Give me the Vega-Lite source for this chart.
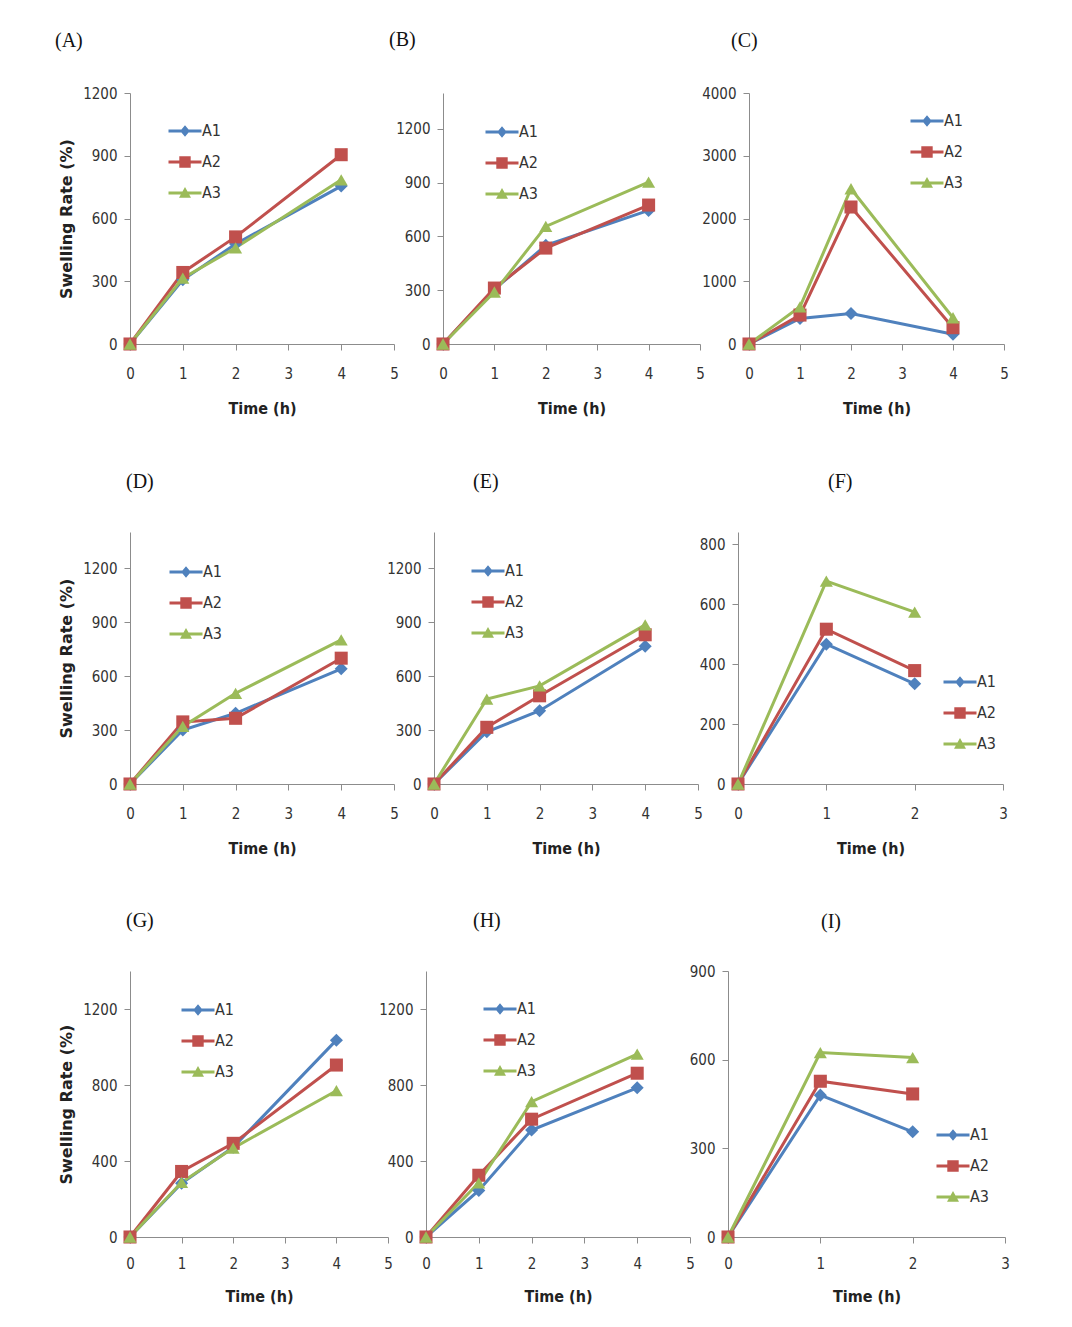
{
  "$schema": "https://vega.github.io/schema/vega-lite/v6.json",
  "padding": {"left": 55, "top": 30, "right": 5, "bottom": 5},
  "background": "white",
  "data": {"values": [
    {"panel":"A","series":"A1","time":0,"value":0},{"panel":"A","series":"A1","time":1,"value":307},{"panel":"A","series":"A1","time":2,"value":478},{"panel":"A","series":"A1","time":4,"value":755},
    {"panel":"A","series":"A2","time":0,"value":0},{"panel":"A","series":"A2","time":1,"value":342},{"panel":"A","series":"A2","time":2,"value":512},{"panel":"A","series":"A2","time":4,"value":905},
    {"panel":"A","series":"A3","time":0,"value":0},{"panel":"A","series":"A3","time":1,"value":315},{"panel":"A","series":"A3","time":2,"value":460},{"panel":"A","series":"A3","time":4,"value":785},
    {"panel":"B","series":"A1","time":0,"value":0},{"panel":"B","series":"A1","time":1,"value":305},{"panel":"B","series":"A1","time":2,"value":550},{"panel":"B","series":"A1","time":4,"value":745},
    {"panel":"B","series":"A2","time":0,"value":0},{"panel":"B","series":"A2","time":1,"value":312},{"panel":"B","series":"A2","time":2,"value":535},{"panel":"B","series":"A2","time":4,"value":775},
    {"panel":"B","series":"A3","time":0,"value":0},{"panel":"B","series":"A3","time":1,"value":290},{"panel":"B","series":"A3","time":2,"value":656},{"panel":"B","series":"A3","time":4,"value":903},
    {"panel":"C","series":"A1","time":0,"value":0},{"panel":"C","series":"A1","time":1,"value":408},{"panel":"C","series":"A1","time":2,"value":487},{"panel":"C","series":"A1","time":4,"value":154},
    {"panel":"C","series":"A2","time":0,"value":0},{"panel":"C","series":"A2","time":1,"value":461},{"panel":"C","series":"A2","time":2,"value":2183},{"panel":"C","series":"A2","time":4,"value":260},
    {"panel":"C","series":"A3","time":0,"value":0},{"panel":"C","series":"A3","time":1,"value":593},{"panel":"C","series":"A3","time":2,"value":2474},{"panel":"C","series":"A3","time":4,"value":418},
    {"panel":"D","series":"A1","time":0,"value":0},{"panel":"D","series":"A1","time":1,"value":300},{"panel":"D","series":"A1","time":2,"value":393},{"panel":"D","series":"A1","time":4,"value":640},
    {"panel":"D","series":"A2","time":0,"value":0},{"panel":"D","series":"A2","time":1,"value":345},{"panel":"D","series":"A2","time":2,"value":365},{"panel":"D","series":"A2","time":4,"value":699},
    {"panel":"D","series":"A3","time":0,"value":0},{"panel":"D","series":"A3","time":1,"value":320},{"panel":"D","series":"A3","time":2,"value":504},{"panel":"D","series":"A3","time":4,"value":801},
    {"panel":"E","series":"A1","time":0,"value":0},{"panel":"E","series":"A1","time":1,"value":290},{"panel":"E","series":"A1","time":2,"value":407},{"panel":"E","series":"A1","time":4,"value":765},
    {"panel":"E","series":"A2","time":0,"value":0},{"panel":"E","series":"A2","time":1,"value":315},{"panel":"E","series":"A2","time":2,"value":490},{"panel":"E","series":"A2","time":4,"value":829},
    {"panel":"E","series":"A3","time":0,"value":0},{"panel":"E","series":"A3","time":1,"value":472},{"panel":"E","series":"A3","time":2,"value":545},{"panel":"E","series":"A3","time":4,"value":884},
    {"panel":"F","series":"A1","time":0,"value":0},{"panel":"F","series":"A1","time":1,"value":466},{"panel":"F","series":"A1","time":2,"value":334},
    {"panel":"F","series":"A2","time":0,"value":0},{"panel":"F","series":"A2","time":1,"value":516},{"panel":"F","series":"A2","time":2,"value":378},
    {"panel":"F","series":"A3","time":0,"value":0},{"panel":"F","series":"A3","time":1,"value":676},{"panel":"F","series":"A3","time":2,"value":573},
    {"panel":"G","series":"A1","time":0,"value":0},{"panel":"G","series":"A1","time":1,"value":283},{"panel":"G","series":"A1","time":2,"value":472},{"panel":"G","series":"A1","time":4,"value":1036},
    {"panel":"G","series":"A2","time":0,"value":0},{"panel":"G","series":"A2","time":1,"value":345},{"panel":"G","series":"A2","time":2,"value":493},{"panel":"G","series":"A2","time":4,"value":905},
    {"panel":"G","series":"A3","time":0,"value":0},{"panel":"G","series":"A3","time":1,"value":288},{"panel":"G","series":"A3","time":2,"value":468},{"panel":"G","series":"A3","time":4,"value":770},
    {"panel":"H","series":"A1","time":0,"value":0},{"panel":"H","series":"A1","time":1,"value":245},{"panel":"H","series":"A1","time":2,"value":563},{"panel":"H","series":"A1","time":4,"value":785},
    {"panel":"H","series":"A2","time":0,"value":0},{"panel":"H","series":"A2","time":1,"value":325},{"panel":"H","series":"A2","time":2,"value":620},{"panel":"H","series":"A2","time":4,"value":862},
    {"panel":"H","series":"A3","time":0,"value":0},{"panel":"H","series":"A3","time":1,"value":285},{"panel":"H","series":"A3","time":2,"value":712},{"panel":"H","series":"A3","time":4,"value":962},
    {"panel":"I","series":"A1","time":0,"value":0},{"panel":"I","series":"A1","time":1,"value":480},{"panel":"I","series":"A1","time":2,"value":356},
    {"panel":"I","series":"A2","time":0,"value":0},{"panel":"I","series":"A2","time":1,"value":527},{"panel":"I","series":"A2","time":2,"value":484},
    {"panel":"I","series":"A3","time":0,"value":0},{"panel":"I","series":"A3","time":1,"value":624},{"panel":"I","series":"A3","time":2,"value":607}
  ]},
  "bounds": "flush",
  "spacing": 439,
  "vconcat": [
    {
      "bounds": "flush",
      "spacing": 49,
      "hconcat": [
        {
          "width": 264, "height": 251,
          "title": {"text": "(A)", "dx": -75, "offset": 35},
          "transform": [{"filter": "datum.panel === 'A'"}],
          "encoding": {
            "x": {"field": "time", "type": "quantitative", "scale": {"domain": [0, 5], "nice": false, "zero": false}, "axis": {"values": [0,1,2,3,4,5], "title": "Time (h)"}},
            "y": {"field": "value", "type": "quantitative", "scale": {"domain": [0, 1200], "nice": false}, "axis": {"values": [0,300,600,900,1200], "title": "Swelling Rate (%)"}}
          },
          "layer": [
            {"mark": {"type": "line", "strokeWidth": 3}, "encoding": {"color": {"field": "series", "type": "nominal", "scale": {"domain": ["A1","A2","A3"], "range": ["#4F81BD","#C0504D","#9BBB59"]}, "legend": null}}},
            {"mark": {"type": "point", "filled": true, "size": 170, "opacity": 1}, "encoding": {"color": {"field": "series", "type": "nominal", "scale": {"domain": ["A1","A2","A3"], "range": ["#4F81BD","#C0504D","#9BBB59"]}, "legend": null}, "shape": {"field": "series", "type": "nominal", "scale": {"domain": ["A1","A2","A3"], "range": ["diamond","square","triangle-up"]}, "legend": null}}},
            {"mark": {"type": "point", "filled": true, "opacity": 0}, "encoding": {"color": {"field": "series", "type": "nominal", "scale": {"domain": ["A1","A2","A3"], "range": ["#4F81BD","#C0504D","#9BBB59"]}, "legend": {"orient": "none", "legendX": 40, "legendY": 23}}, "shape": {"field": "series", "type": "nominal", "scale": {"domain": ["A1","A2","A3"], "range": ["M-1.1,-0.1H1.1V0.1H-1.1Z M0,-0.38L0.32,0L0,0.38L-0.32,0Z","M-1.1,-0.1H1.1V0.1H-1.1Z M-0.38,-0.38H0.38V0.38H-0.38Z","M-1.1,-0.1H1.1V0.1H-1.1Z M0,-0.4L0.4,0.32H-0.4Z"]}, "legend": {"orient": "none", "legendX": 40, "legendY": 23}}}}
          ],
          "resolve": {"scale": {"color": "independent", "shape": "independent"}}
        },
        {
          "width": 257, "height": 251,
          "title": {"text": "(B)", "dx": -54, "offset": 43},
          "transform": [{"filter": "datum.panel === 'B'"}],
          "encoding": {
            "x": {"field": "time", "type": "quantitative", "scale": {"domain": [0, 5], "nice": false, "zero": false}, "axis": {"values": [0,1,2,3,4,5], "title": "Time (h)"}},
            "y": {"field": "value", "type": "quantitative", "scale": {"domain": [0, 1400], "nice": false}, "axis": {"values": [0,300,600,900,1200], "title": null}}
          },
          "layer": [
            {"mark": {"type": "line", "strokeWidth": 3}, "encoding": {"color": {"field": "series", "type": "nominal", "scale": {"domain": ["A1","A2","A3"], "range": ["#4F81BD","#C0504D","#9BBB59"]}, "legend": null}}},
            {"mark": {"type": "point", "filled": true, "size": 170, "opacity": 1}, "encoding": {"color": {"field": "series", "type": "nominal", "scale": {"domain": ["A1","A2","A3"], "range": ["#4F81BD","#C0504D","#9BBB59"]}, "legend": null}, "shape": {"field": "series", "type": "nominal", "scale": {"domain": ["A1","A2","A3"], "range": ["diamond","square","triangle-up"]}, "legend": null}}},
            {"mark": {"type": "point", "filled": true, "opacity": 0}, "encoding": {"color": {"field": "series", "type": "nominal", "scale": {"domain": ["A1","A2","A3"], "range": ["#4F81BD","#C0504D","#9BBB59"]}, "legend": {"orient": "none", "legendX": 44, "legendY": 24}}, "shape": {"field": "series", "type": "nominal", "scale": {"domain": ["A1","A2","A3"], "range": ["M-1.1,-0.1H1.1V0.1H-1.1Z M0,-0.38L0.32,0L0,0.38L-0.32,0Z","M-1.1,-0.1H1.1V0.1H-1.1Z M-0.38,-0.38H0.38V0.38H-0.38Z","M-1.1,-0.1H1.1V0.1H-1.1Z M0,-0.4L0.4,0.32H-0.4Z"]}, "legend": {"orient": "none", "legendX": 44, "legendY": 24}}}}
          ],
          "resolve": {"scale": {"color": "independent", "shape": "independent"}}
        },
        {
          "width": 255, "height": 251,
          "title": {"text": "(C)", "dx": -18, "offset": 35},
          "transform": [{"filter": "datum.panel === 'C'"}],
          "encoding": {
            "x": {"field": "time", "type": "quantitative", "scale": {"domain": [0, 5], "nice": false, "zero": false}, "axis": {"values": [0,1,2,3,4,5], "title": "Time (h)"}},
            "y": {"field": "value", "type": "quantitative", "scale": {"domain": [0, 4000], "nice": false}, "axis": {"values": [0,1000,2000,3000,4000], "title": null}}
          },
          "layer": [
            {"mark": {"type": "line", "strokeWidth": 3}, "encoding": {"color": {"field": "series", "type": "nominal", "scale": {"domain": ["A1","A2","A3"], "range": ["#4F81BD","#C0504D","#9BBB59"]}, "legend": null}}},
            {"mark": {"type": "point", "filled": true, "size": 170, "opacity": 1}, "encoding": {"color": {"field": "series", "type": "nominal", "scale": {"domain": ["A1","A2","A3"], "range": ["#4F81BD","#C0504D","#9BBB59"]}, "legend": null}, "shape": {"field": "series", "type": "nominal", "scale": {"domain": ["A1","A2","A3"], "range": ["diamond","square","triangle-up"]}, "legend": null}}},
            {"mark": {"type": "point", "filled": true, "opacity": 0}, "encoding": {"color": {"field": "series", "type": "nominal", "scale": {"domain": ["A1","A2","A3"], "range": ["#4F81BD","#C0504D","#9BBB59"]}, "legend": {"orient": "none", "legendX": 163, "legendY": 13}}, "shape": {"field": "series", "type": "nominal", "scale": {"domain": ["A1","A2","A3"], "range": ["M-1.1,-0.1H1.1V0.1H-1.1Z M0,-0.38L0.32,0L0,0.38L-0.32,0Z","M-1.1,-0.1H1.1V0.1H-1.1Z M-0.38,-0.38H0.38V0.38H-0.38Z","M-1.1,-0.1H1.1V0.1H-1.1Z M0,-0.4L0.4,0.32H-0.4Z"]}, "legend": {"orient": "none", "legendX": 163, "legendY": 13}}}}
          ],
          "resolve": {"scale": {"color": "independent", "shape": "independent"}}
        }
      ]
    },
    {
      "bounds": "flush",
      "spacing": 40,
      "hconcat": [
        {
          "width": 264, "height": 252,
          "title": {"text": "(D)", "dx": -4, "offset": 40},
          "transform": [{"filter": "datum.panel === 'D'"}],
          "encoding": {
            "x": {"field": "time", "type": "quantitative", "scale": {"domain": [0, 5], "nice": false, "zero": false}, "axis": {"values": [0,1,2,3,4,5], "title": "Time (h)"}},
            "y": {"field": "value", "type": "quantitative", "scale": {"domain": [0, 1400], "nice": false}, "axis": {"values": [0,300,600,900,1200], "title": "Swelling Rate (%)"}}
          },
          "layer": [
            {"mark": {"type": "line", "strokeWidth": 3}, "encoding": {"color": {"field": "series", "type": "nominal", "scale": {"domain": ["A1","A2","A3"], "range": ["#4F81BD","#C0504D","#9BBB59"]}, "legend": null}}},
            {"mark": {"type": "point", "filled": true, "size": 170, "opacity": 1}, "encoding": {"color": {"field": "series", "type": "nominal", "scale": {"domain": ["A1","A2","A3"], "range": ["#4F81BD","#C0504D","#9BBB59"]}, "legend": null}, "shape": {"field": "series", "type": "nominal", "scale": {"domain": ["A1","A2","A3"], "range": ["diamond","square","triangle-up"]}, "legend": null}}},
            {"mark": {"type": "point", "filled": true, "opacity": 0}, "encoding": {"color": {"field": "series", "type": "nominal", "scale": {"domain": ["A1","A2","A3"], "range": ["#4F81BD","#C0504D","#9BBB59"]}, "legend": {"orient": "none", "legendX": 41, "legendY": 25}}, "shape": {"field": "series", "type": "nominal", "scale": {"domain": ["A1","A2","A3"], "range": ["M-1.1,-0.1H1.1V0.1H-1.1Z M0,-0.38L0.32,0L0,0.38L-0.32,0Z","M-1.1,-0.1H1.1V0.1H-1.1Z M-0.38,-0.38H0.38V0.38H-0.38Z","M-1.1,-0.1H1.1V0.1H-1.1Z M0,-0.4L0.4,0.32H-0.4Z"]}, "legend": {"orient": "none", "legendX": 41, "legendY": 25}}}}
          ],
          "resolve": {"scale": {"color": "independent", "shape": "independent"}}
        },
        {
          "width": 264, "height": 252,
          "title": {"text": "(E)", "dx": 39, "offset": 40},
          "transform": [{"filter": "datum.panel === 'E'"}],
          "encoding": {
            "x": {"field": "time", "type": "quantitative", "scale": {"domain": [0, 5], "nice": false, "zero": false}, "axis": {"values": [0,1,2,3,4,5], "title": "Time (h)"}},
            "y": {"field": "value", "type": "quantitative", "scale": {"domain": [0, 1400], "nice": false}, "axis": {"values": [0,300,600,900,1200], "title": null}}
          },
          "layer": [
            {"mark": {"type": "line", "strokeWidth": 3}, "encoding": {"color": {"field": "series", "type": "nominal", "scale": {"domain": ["A1","A2","A3"], "range": ["#4F81BD","#C0504D","#9BBB59"]}, "legend": null}}},
            {"mark": {"type": "point", "filled": true, "size": 170, "opacity": 1}, "encoding": {"color": {"field": "series", "type": "nominal", "scale": {"domain": ["A1","A2","A3"], "range": ["#4F81BD","#C0504D","#9BBB59"]}, "legend": null}, "shape": {"field": "series", "type": "nominal", "scale": {"domain": ["A1","A2","A3"], "range": ["diamond","square","triangle-up"]}, "legend": null}}},
            {"mark": {"type": "point", "filled": true, "opacity": 0}, "encoding": {"color": {"field": "series", "type": "nominal", "scale": {"domain": ["A1","A2","A3"], "range": ["#4F81BD","#C0504D","#9BBB59"]}, "legend": {"orient": "none", "legendX": 39, "legendY": 24}}, "shape": {"field": "series", "type": "nominal", "scale": {"domain": ["A1","A2","A3"], "range": ["M-1.1,-0.1H1.1V0.1H-1.1Z M0,-0.38L0.32,0L0,0.38L-0.32,0Z","M-1.1,-0.1H1.1V0.1H-1.1Z M-0.38,-0.38H0.38V0.38H-0.38Z","M-1.1,-0.1H1.1V0.1H-1.1Z M0,-0.4L0.4,0.32H-0.4Z"]}, "legend": {"orient": "none", "legendX": 39, "legendY": 24}}}}
          ],
          "resolve": {"scale": {"color": "independent", "shape": "independent"}}
        },
        {
          "width": 265, "height": 252,
          "title": {"text": "(F)", "dx": 90, "offset": 40},
          "transform": [{"filter": "datum.panel === 'F'"}],
          "encoding": {
            "x": {"field": "time", "type": "quantitative", "scale": {"domain": [0, 3], "nice": false, "zero": false}, "axis": {"values": [0,1,2,3], "title": "Time (h)"}},
            "y": {"field": "value", "type": "quantitative", "scale": {"domain": [0, 840], "nice": false}, "axis": {"values": [0,200,400,600,800], "title": null}}
          },
          "layer": [
            {"mark": {"type": "line", "strokeWidth": 3}, "encoding": {"color": {"field": "series", "type": "nominal", "scale": {"domain": ["A1","A2","A3"], "range": ["#4F81BD","#C0504D","#9BBB59"]}, "legend": null}}},
            {"mark": {"type": "point", "filled": true, "size": 170, "opacity": 1}, "encoding": {"color": {"field": "series", "type": "nominal", "scale": {"domain": ["A1","A2","A3"], "range": ["#4F81BD","#C0504D","#9BBB59"]}, "legend": null}, "shape": {"field": "series", "type": "nominal", "scale": {"domain": ["A1","A2","A3"], "range": ["diamond","square","triangle-up"]}, "legend": null}}},
            {"mark": {"type": "point", "filled": true, "opacity": 0}, "encoding": {"color": {"field": "series", "type": "nominal", "scale": {"domain": ["A1","A2","A3"], "range": ["#4F81BD","#C0504D","#9BBB59"]}, "legend": {"orient": "none", "legendX": 207, "legendY": 135}}, "shape": {"field": "series", "type": "nominal", "scale": {"domain": ["A1","A2","A3"], "range": ["M-1.1,-0.1H1.1V0.1H-1.1Z M0,-0.38L0.32,0L0,0.38L-0.32,0Z","M-1.1,-0.1H1.1V0.1H-1.1Z M-0.38,-0.38H0.38V0.38H-0.38Z","M-1.1,-0.1H1.1V0.1H-1.1Z M0,-0.4L0.4,0.32H-0.4Z"]}, "legend": {"orient": "none", "legendX": 207, "legendY": 135}}}}
          ],
          "resolve": {"scale": {"color": "independent", "shape": "independent"}}
        }
      ]
    },
    {
      "bounds": "flush",
      "spacing": 38,
      "hconcat": [
        {
          "width": 258, "height": 266,
          "title": {"text": "(G)", "dx": -4, "offset": 40},
          "transform": [{"filter": "datum.panel === 'G'"}],
          "encoding": {
            "x": {"field": "time", "type": "quantitative", "scale": {"domain": [0, 5], "nice": false, "zero": false}, "axis": {"values": [0,1,2,3,4,5], "title": "Time (h)", "labelPadding": 13, "titlePadding": 17}},
            "y": {"field": "value", "type": "quantitative", "scale": {"domain": [0, 1400], "nice": false}, "axis": {"values": [0,400,800,1200], "title": "Swelling Rate (%)"}}
          },
          "layer": [
            {"mark": {"type": "line", "strokeWidth": 3}, "encoding": {"color": {"field": "series", "type": "nominal", "scale": {"domain": ["A1","A2","A3"], "range": ["#4F81BD","#C0504D","#9BBB59"]}, "legend": null}}},
            {"mark": {"type": "point", "filled": true, "size": 170, "opacity": 1}, "encoding": {"color": {"field": "series", "type": "nominal", "scale": {"domain": ["A1","A2","A3"], "range": ["#4F81BD","#C0504D","#9BBB59"]}, "legend": null}, "shape": {"field": "series", "type": "nominal", "scale": {"domain": ["A1","A2","A3"], "range": ["diamond","square","triangle-up"]}, "legend": null}}},
            {"mark": {"type": "point", "filled": true, "opacity": 0}, "encoding": {"color": {"field": "series", "type": "nominal", "scale": {"domain": ["A1","A2","A3"], "range": ["#4F81BD","#C0504D","#9BBB59"]}, "legend": {"orient": "none", "legendX": 53, "legendY": 24}}, "shape": {"field": "series", "type": "nominal", "scale": {"domain": ["A1","A2","A3"], "range": ["M-1.1,-0.1H1.1V0.1H-1.1Z M0,-0.38L0.32,0L0,0.38L-0.32,0Z","M-1.1,-0.1H1.1V0.1H-1.1Z M-0.38,-0.38H0.38V0.38H-0.38Z","M-1.1,-0.1H1.1V0.1H-1.1Z M0,-0.4L0.4,0.32H-0.4Z"]}, "legend": {"orient": "none", "legendX": 53, "legendY": 24}}}}
          ],
          "resolve": {"scale": {"color": "independent", "shape": "independent"}}
        },
        {
          "width": 264, "height": 266,
          "title": {"text": "(H)", "dx": 47, "offset": 40},
          "transform": [{"filter": "datum.panel === 'H'"}],
          "encoding": {
            "x": {"field": "time", "type": "quantitative", "scale": {"domain": [0, 5], "nice": false, "zero": false}, "axis": {"values": [0,1,2,3,4,5], "title": "Time (h)", "labelPadding": 13, "titlePadding": 17}},
            "y": {"field": "value", "type": "quantitative", "scale": {"domain": [0, 1400], "nice": false}, "axis": {"values": [0,400,800,1200], "title": null}}
          },
          "layer": [
            {"mark": {"type": "line", "strokeWidth": 3}, "encoding": {"color": {"field": "series", "type": "nominal", "scale": {"domain": ["A1","A2","A3"], "range": ["#4F81BD","#C0504D","#9BBB59"]}, "legend": null}}},
            {"mark": {"type": "point", "filled": true, "size": 170, "opacity": 1}, "encoding": {"color": {"field": "series", "type": "nominal", "scale": {"domain": ["A1","A2","A3"], "range": ["#4F81BD","#C0504D","#9BBB59"]}, "legend": null}, "shape": {"field": "series", "type": "nominal", "scale": {"domain": ["A1","A2","A3"], "range": ["diamond","square","triangle-up"]}, "legend": null}}},
            {"mark": {"type": "point", "filled": true, "opacity": 0}, "encoding": {"color": {"field": "series", "type": "nominal", "scale": {"domain": ["A1","A2","A3"], "range": ["#4F81BD","#C0504D","#9BBB59"]}, "legend": {"orient": "none", "legendX": 59, "legendY": 23}}, "shape": {"field": "series", "type": "nominal", "scale": {"domain": ["A1","A2","A3"], "range": ["M-1.1,-0.1H1.1V0.1H-1.1Z M0,-0.38L0.32,0L0,0.38L-0.32,0Z","M-1.1,-0.1H1.1V0.1H-1.1Z M-0.38,-0.38H0.38V0.38H-0.38Z","M-1.1,-0.1H1.1V0.1H-1.1Z M0,-0.4L0.4,0.32H-0.4Z"]}, "legend": {"orient": "none", "legendX": 59, "legendY": 23}}}}
          ],
          "resolve": {"scale": {"color": "independent", "shape": "independent"}}
        },
        {
          "width": 277, "height": 266,
          "title": {"text": "(I)", "dx": 93, "offset": 32},
          "transform": [{"filter": "datum.panel === 'I'"}],
          "encoding": {
            "x": {"field": "time", "type": "quantitative", "scale": {"domain": [0, 3], "nice": false, "zero": false}, "axis": {"values": [0,1,2,3], "title": "Time (h)", "labelPadding": 13, "titlePadding": 17}},
            "y": {"field": "value", "type": "quantitative", "scale": {"domain": [0, 900], "nice": false}, "axis": {"values": [0,300,600,900], "title": null}}
          },
          "layer": [
            {"mark": {"type": "line", "strokeWidth": 3}, "encoding": {"color": {"field": "series", "type": "nominal", "scale": {"domain": ["A1","A2","A3"], "range": ["#4F81BD","#C0504D","#9BBB59"]}, "legend": null}}},
            {"mark": {"type": "point", "filled": true, "size": 170, "opacity": 1}, "encoding": {"color": {"field": "series", "type": "nominal", "scale": {"domain": ["A1","A2","A3"], "range": ["#4F81BD","#C0504D","#9BBB59"]}, "legend": null}, "shape": {"field": "series", "type": "nominal", "scale": {"domain": ["A1","A2","A3"], "range": ["diamond","square","triangle-up"]}, "legend": null}}},
            {"mark": {"type": "point", "filled": true, "opacity": 0}, "encoding": {"color": {"field": "series", "type": "nominal", "scale": {"domain": ["A1","A2","A3"], "range": ["#4F81BD","#C0504D","#9BBB59"]}, "legend": {"orient": "none", "legendX": 210, "legendY": 149}}, "shape": {"field": "series", "type": "nominal", "scale": {"domain": ["A1","A2","A3"], "range": ["M-1.1,-0.1H1.1V0.1H-1.1Z M0,-0.38L0.32,0L0,0.38L-0.32,0Z","M-1.1,-0.1H1.1V0.1H-1.1Z M-0.38,-0.38H0.38V0.38H-0.38Z","M-1.1,-0.1H1.1V0.1H-1.1Z M0,-0.4L0.4,0.32H-0.4Z"]}, "legend": {"orient": "none", "legendX": 210, "legendY": 149}}}}
          ],
          "resolve": {"scale": {"color": "independent", "shape": "independent"}}
        }
      ]
    }
  ],
  "config": {
    "view": {"stroke": null},
    "axis": {"grid": false, "format": "d", "domainColor": "#8c8c8c", "tickColor": "#8c8c8c", "tickSize": 6, "labelFont": "DejaVu Sans Condensed, Liberation Sans, sans-serif", "labelFontSize": 15, "labelColor": "#333333", "labelFlush": false, "labelOverlap": false, "titleFont": "DejaVu Sans Condensed, Liberation Sans, sans-serif", "titleFontSize": 16, "titleFontWeight": "bold", "titleColor": "#222222"},
    "axisX": {"labelPadding": 16, "titlePadding": 19},
    "axisY": {"labelPadding": 7, "titlePadding": 8, "titleFont": "DejaVu Sans, sans-serif", "titleFontSize": 16},
    "legend": {"title": null, "symbolSize": 900, "symbolStrokeWidth": 0, "symbolOpacity": 1, "labelFont": "DejaVu Sans Condensed, Liberation Sans, sans-serif", "labelFontSize": 16, "labelColor": "#333333", "labelOffset": 2, "rowPadding": 8, "padding": 0},
    "title": {"font": "Liberation Serif", "fontSize": 20, "fontWeight": "normal", "anchor": "start", "frame": "group", "color": "#111111"}
  }
}
